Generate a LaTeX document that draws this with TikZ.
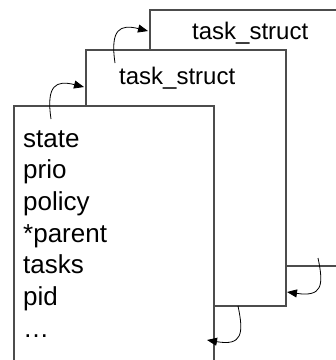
\documentclass[tikz,border=0pt]{standalone}
\usepackage{fontspec}
\setmainfont{Liberation Sans}
\usetikzlibrary{arrows.meta}
\begin{document}
\begin{tikzpicture}[x=1pt,y=-1pt,
  structbox/.style={draw=black!70,line width=1.1pt,fill=white},
  title/.style={anchor=base west,inner sep=0pt,font=\fontsize{24}{28}\selectfont},
  field/.style={anchor=base west,inner sep=0pt,font=\fontsize{26}{31}\selectfont},
  link/.style={line width=0.8pt,-{Triangle[length=10pt,width=8pt]}}]
\useasboundingbox (0,0) rectangle (336,360);
% three task_struct records, stacked back to front
\draw[structbox] (150,10) rectangle (350,266);
\coordinate (b3nw) at (150,10);
\draw[structbox] (86,50) rectangle (286,306);
\coordinate (b2nw) at (86,50);
\draw[structbox] (14,106) rectangle (214,372);
\coordinate (b1nw) at (14,106);
\node[title] (t3) at (192,39) {task\_struct};
\node[title] (t2) at (119,84) {task\_struct};
% fields of the front record
\foreach \t [count=\i] in {state,prio,policy,*parent,tasks,pid,…}
  \node[field] (f\i) at (23,{147+31.7*(\i-1)}) {\t};
% list links between the records
\coordinate (p1) at (51,119);  \coordinate (q1) at (84,87);
\coordinate (p2) at (115,63);  \coordinate (q2) at (148,31);
\coordinate (p3) at (318,258); \coordinate (q3) at (287,292);
\coordinate (p4) at (238,306); \coordinate (q4) at (207,340);
\draw[link] (p1) .. controls (46,85) and (56,80) .. (q1);
\draw[link] (p2) .. controls (110,29) and (120,24) .. (q2);
\draw[link] (p3) .. controls (324,286) and (322,297) .. (q3);
\draw[link] (p4) .. controls (244,334) and (242,346) .. (q4);
\end{tikzpicture}
\end{document}
